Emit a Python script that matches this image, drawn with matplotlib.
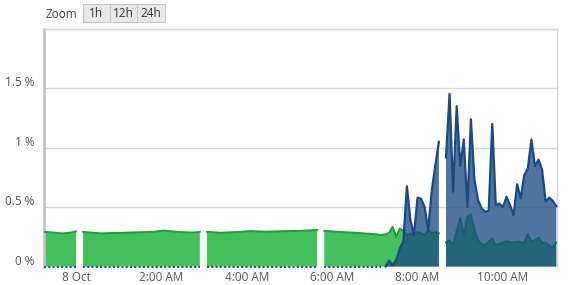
import numpy as np
import matplotlib
matplotlib.use("Agg")
import matplotlib.pyplot as plt
from matplotlib.patches import Rectangle
from matplotlib.transforms import ScaledTranslation

plt.rcParams['font.family'] = ['Open Sans', 'DejaVu Sans']

# minutes from midnight 8 Oct; NaN marks a gap in the data
early_min = [-45, -35, -20, -10, 0, 5, 10, 20, 36, 50, 66, 80, 99, 110, 123, 135,
             146, 165, 174, 179, 184, 203, 225, 245, 268, 290, 315, 339, 344, 349,
             371, 390, 404, 420, 428]
early_green = [0.292, 0.288, 0.279, 0.283, 0.295, np.nan, 0.292, 0.286, 0.279, 0.282,
               0.284, 0.287, 0.290, 0.293, 0.303, 0.296, 0.290, 0.286, 0.292, np.nan,
               0.292, 0.284, 0.290, 0.298, 0.293, 0.297, 0.300, 0.308, np.nan, 0.300,
               0.291, 0.285, 0.279, 0.272, 0.266]

# 5 minute samples from 7:15 to 11:15 (8:35 missing)
late_min = list(range(435, 520, 5)) + list(range(520, 680, 5))
late_green = [0.270, 0.285, 0.335, 0.250, 0.320, 0.300, 0.265, 0.280, 0.270, 0.290,
              0.280, 0.265, 0.307, 0.280, 0.290, 0.280, np.nan,
              0.203, 0.220, 0.180, 0.300, 0.405, 0.265, 0.420, 0.440, 0.307, 0.220,
              0.190, 0.180, 0.210, 0.237, 0.180, 0.190, 0.200, 0.214, 0.205, 0.203,
              0.210, 0.205, 0.200, 0.273, 0.210, 0.220, 0.245, 0.200, 0.200, 0.175,
              0.158, 0.203]
late_blue = [0.0, 0.05, 0.01, 0.055, 0.15, 0.21, 0.675, 0.39, 0.265, 0.58,
             0.57, 0.50, 0.307, 0.64, 0.85, 1.05, np.nan,
             0.92, 1.455, 0.63, 1.35, 0.845, 1.07, 0.50, 1.24, 0.727, 0.56,
             0.49, 0.46, 0.47, 1.20, 0.517, 0.53, 0.50, 0.587, 0.517, 0.433,
             0.693, 0.573, 0.77, 0.825, 1.07, 0.845, 0.90, 0.817, 0.545, 0.58,
             0.553, 0.508]

xtick_min = [0, 120, 240, 360, 480, 600]
xtick_labels = ["8 Oct", "2:00 AM", "4:00 AM", "6:00 AM", "8:00 AM", "10:00 AM"]
ytick_vals = [0, 0.5, 1, 1.5, 2]
ytick_labels = ["0 %", "0.5 %", "1 %", "1.5 %", ""]

t_early = np.array(early_min, dtype=float)
g_early = np.array(early_green)
b_early = np.where(np.isnan(g_early), np.nan, 0.0)
t_late = np.array(late_min, dtype=float)
g_late = np.array(late_green)
b_late = np.array(late_blue)

t = np.concatenate([t_early, t_late])
green = np.concatenate([g_early, g_late])
blue = np.concatenate([b_early, b_late])

W, H = 569, 285
fig = plt.figure(figsize=(W / 100, H / 100), dpi=100)
ax = fig.add_axes([44 / W, 1 - 266.5 / H, (557 - 44) / W, (266.5 - 29) / H])

green_fill = '#43bf5c'
green_line = '#1e9e3c'
blue_col = '#1a4a82'

ax.fill_between(t, 0, green, color=green_fill, lw=0, zorder=2)
ax.plot(t, green, color=green_line, lw=1.4, zorder=3)
ax.fill_between(t, 0, blue, color=blue_col, alpha=0.77, lw=0, zorder=4)
ax.plot(t_early, b_early, color=blue_col, lw=1.4, ls=(0, (1, 1.2)), zorder=5, clip_on=False)
ax.plot(t_late, b_late, color=blue_col, lw=1.6, zorder=5, clip_on=False)

ax.set_xlim(-45, 676)
ax.set_ylim(0, 2)
ax.set_yticks(ytick_vals)
ax.set_yticklabels(ytick_labels)
ax.set_xticks(xtick_min)
ax.set_xticklabels(xtick_labels)
ax.tick_params(axis='both', length=0, colors='#555555', labelsize=8.5)
ax.tick_params(axis='y', pad=7)
ax.tick_params(axis='x', pad=3)
ax.grid(axis='y', color='#d8d8d8', lw=1, zorder=0)
ax.set_axisbelow(True)

for lab in ax.get_yticklabels():
    lab.set_transform(lab.get_transform() + ScaledTranslation(0, 5 / 72, fig.dpi_scale_trans))

ax.spines['bottom'].set_visible(False)
ax.spines['left'].set_color('#c4c4c4')
ax.spines['left'].set_linewidth(2)
for s in ['top', 'right']:
    ax.spines[s].set_color('#d8d8d8')
    ax.spines[s].set_linewidth(1)

# zoom buttons
fig.text(45 / W, 1 - 14 / H, "Zoom", fontsize=8.5, color='#444444', va='center', ha='left')
buttons = ["1h", "12h", "24h"]
edges = [82.7, 110, 137.3, 165]
for i, b in enumerate(buttons):
    x0, x1 = edges[i], edges[i + 1]
    fig.add_artist(Rectangle((x0 / W, 1 - 22.3 / H), (x1 - x0) / W, 18.3 / H,
                             transform=fig.transFigure, facecolor='#e9e9e9',
                             edgecolor='#c6c6c6', lw=0.8))
    fig.text((x0 + x1) / 2 / W, 1 - 13.5 / H, b, fontsize=8.5, color='#333333',
             va='center', ha='center')

fig.savefig('out.png', dpi=100)
